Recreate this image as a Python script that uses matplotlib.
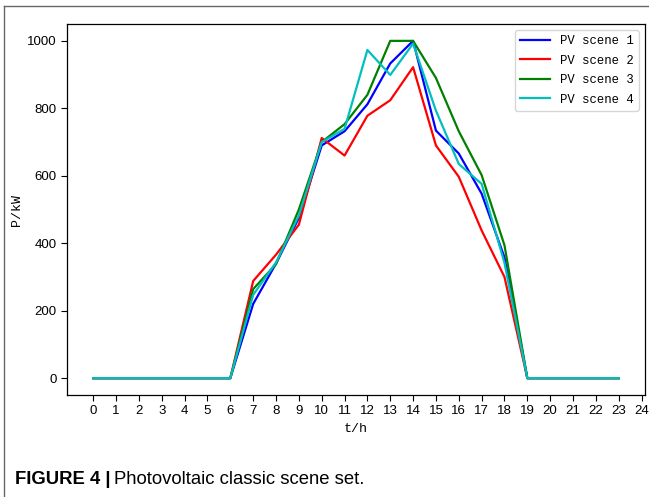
"""Photovoltaic output curves for the four classic scenes."""

import matplotlib

matplotlib.use("Agg")
import matplotlib.pyplot as plt  # noqa: E402
from matplotlib.lines import Line2D  # noqa: E402

hours = list(range(24))
pv_scene_1 = [0, 0, 0, 0, 0, 0, 0, 220, 340, 475, 690, 732, 812, 933, 1000, 734,
              666, 547, 358, 0, 0, 0, 0, 0]
pv_scene_2 = [0, 0, 0, 0, 0, 0, 0, 288, 366, 455, 712, 660, 778, 824, 922, 690,
              597, 438, 300, 0, 0, 0, 0, 0]
pv_scene_3 = [0, 0, 0, 0, 0, 0, 0, 264, 338, 500, 700, 753, 840, 1000, 1000, 890,
              732, 602, 394, 0, 0, 0, 0, 0]
pv_scene_4 = [0, 0, 0, 0, 0, 0, 0, 247, 343, 482, 700, 739, 973, 899, 992, 793,
              635, 576, 342, 0, 0, 0, 0, 0]
series = [
    ("PV scene 1", pv_scene_1, "b"),
    ("PV scene 2", pv_scene_2, "r"),
    ("PV scene 3", pv_scene_3, "g"),
    ("PV scene 4", pv_scene_4, "c"),
]
x_ticks = list(range(25))
y_ticks = [0, 200, 400, 600, 800, 1000]

tick_font = ["Liberation Sans", "DejaVu Sans"]
mono_font = ["Liberation Mono", "DejaVu Sans Mono"]

fig = plt.figure(figsize=(6.49, 4.97), dpi=100)
ax = fig.add_axes([0.1032, 0.2052, 0.8906, 0.7465])

for name, values, color in series:
    ax.plot(hours, values, color=color, linewidth=1.6, label=name)

ax.set_xticks(x_ticks)
ax.set_yticks(y_ticks)
for lbl in ax.get_xticklabels() + ax.get_yticklabels():
    lbl.set_family(tick_font)
    lbl.set_fontsize(9.5)
ax.tick_params(direction="out", length=4, width=0.8)
ax.set_xlabel("t/h", family=mono_font, fontsize=9.5)
ax.set_ylabel("P/kW", family=mono_font, fontsize=9.5)
ax.xaxis.set_label_coords(0.5, -0.075)
ax.yaxis.set_label_coords(-0.076, 0.5)
for spine in ax.spines.values():
    spine.set_linewidth(0.9)

ax.legend(loc="upper right", prop={"family": mono_font, "size": 8.8},
          handlelength=2.5, labelspacing=0.62, borderaxespad=0.5,
          fancybox=True, framealpha=0.8)

# figure panel border and caption
fig.add_artist(Line2D([4 / 649, 4 / 649], [0, 1 - 6 / 497],
                      transform=fig.transFigure, color="#666666", linewidth=1.0))
fig.add_artist(Line2D([4 / 649, 1], [1 - 6 / 497, 1 - 6 / 497],
                      transform=fig.transFigure, color="#666666", linewidth=1.0))
cap_y = 1 - 479 / 497
cap = fig.text(15 / 649, cap_y, "FIGURE 4 |", fontsize=13.3, fontweight="bold",
               family=["Liberation Sans", "DejaVu Sans"], va="center")
fig.canvas.draw()
bb = cap.get_window_extent()
fig.text((bb.x1 + 4) / 649, cap_y, "Photovoltaic classic scene set.",
         fontsize=13.3, family=["Liberation Sans", "DejaVu Sans"], va="center")

fig.savefig("out.png", dpi=100)
plt.close(fig)
